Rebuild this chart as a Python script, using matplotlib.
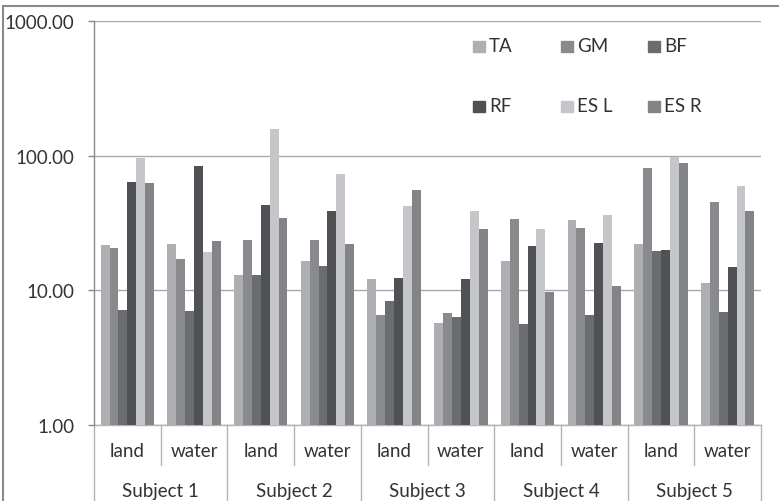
import matplotlib
matplotlib.use("Agg")
import matplotlib.pyplot as plt
import matplotlib.transforms as mtrans
from matplotlib.patches import Rectangle
import numpy as np

subjects = ["Subject 1", "Subject 2", "Subject 3", "Subject 4", "Subject 5"]
conditions = ["land", "water"]
muscles = ["TA", "GM", "BF", "RF", "ES L", "ES R"]

# one value per (subject, condition), in order S1 land, S1 water, S2 land, ...
TA = [21.8, 22.2, 13.0, 16.4, 12.1, 5.7, 16.4, 33.3, 22.2, 11.4]
GM = [20.5, 17.0, 23.8, 23.8, 6.6, 6.8, 33.8, 29.0, 80.5, 45.0]
BF = [7.1, 7.0, 13.0, 15.1, 8.3, 6.3, 5.6, 6.6, 19.7, 6.9]
RF = [63.7, 83.3, 43.2, 38.6, 12.3, 12.1, 21.2, 22.6, 20.0, 14.8]
ES_L = [96.5, 19.4, 156.7, 72.6, 42.5, 38.6, 28.5, 36.0, 98.2, 59.5]
ES_R = [62.6, 23.4, 34.2, 22.2, 55.5, 28.5, 9.8, 10.8, 87.7, 38.6]

series = [TA, GM, BF, RF, ES_L, ES_R]
colors = ["#aeafb2", "#898a8e", "#6b6c70", "#505154", "#c5c6c9", "#838488"]

FONT = "Lato"
FS = 13.5
plt.rcParams["font.family"] = [FONT, "DejaVu Sans"]

fig = plt.figure(figsize=(7.79, 5.02), dpi=100)
W, H = 779, 502
ax = fig.add_axes([94 / W, 1 - 426 / H, (761 - 94) / W, (426 - 22) / H])

n_cat = len(subjects) * len(conditions)
x = np.arange(n_cat)
bw = 1 / 7.5
ax.set_yscale("log")
for j, (vals, c) in enumerate(zip(series, colors)):
    ax.bar(x + (j - 2.5) * bw, vals, width=bw, color=c, zorder=3)

ax.set_ylim(1, 1000)
ax.set_xlim(-0.5, n_cat - 0.5)
ax.set_yticks([1, 10, 100, 1000])
ax.set_yticklabels([f"{v:.2f}" for v in [1, 10, 100, 1000]])
ax.yaxis.set_minor_locator(matplotlib.ticker.NullLocator())
ax.tick_params(axis="y", length=4.3, width=1, color="#8a8a8a", pad=10,
               labelsize=FS, labelcolor="#333333")
ax.set_xticks([])
ax.grid(axis="y", color="#a9a9a9", linewidth=1, zorder=0)

for s in ["top", "right", "bottom"]:
    ax.spines[s].set_visible(False)
ax.spines["left"].set_color("#8a8a8a")
ax.spines["left"].set_linewidth(1)

# two-level category axis
tr = mtrans.blended_transform_factory(ax.transData, ax.transAxes)
sep_col = "#b3b3b3"
ax.plot([-0.5, n_cat - 0.5], [0, 0], color=sep_col, lw=1, transform=tr, clip_on=False)
for i in range(n_cat + 1):
    xb = i - 0.5
    y_end = -0.099 if i % 2 == 1 else -0.2
    ax.plot([xb, xb], [0, y_end], color=sep_col, lw=1, transform=tr, clip_on=False)
for i in range(n_cat):
    ax.text(i, -0.064, conditions[i % 2], transform=tr, ha="center", va="center",
            fontsize=FS, color="#333333")
for k, s in enumerate(subjects):
    ax.text(2 * k + 0.5, -0.161, s, transform=tr, ha="center", va="center",
            fontsize=FS, color="#333333")

# legend, two rows of three
leg_x = [473, 561, 648]
leg_y = [47, 107]
for j, (name, c) in enumerate(zip(muscles, colors)):
    px = leg_x[j % 3]
    py = leg_y[j // 3]
    fig.patches.append(Rectangle((px / W, 1 - (py + 5.5) / H), 11.5 / W, 11 / H,
                                 transform=fig.transFigure, color=c))
    fig.text((px + 16) / W, 1 - py / H, name, ha="left", va="center",
             fontsize=FS, color="#333333")

# chart frame
fig.patches.append(Rectangle((3 / W, -0.05), 1.2, 1 - 7 / H + 0.05,
                             transform=fig.transFigure, fill=False,
                             edgecolor="#8a8a8a", linewidth=1.5))

fig.savefig("out.png", dpi=100, facecolor="white")
